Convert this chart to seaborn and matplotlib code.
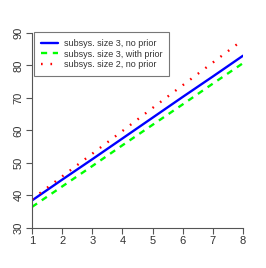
import matplotlib
matplotlib.use("Agg")
import matplotlib.pyplot as plt
import seaborn as sns
import pandas as pd

x_vals = [1, 2, 3, 4, 5, 6, 7, 8]
size3_no_prior = [38.4, 44.8, 51.1, 57.5, 63.9, 70.3, 76.6, 83.0]
size3_with_prior = [36.4, 42.7, 49.0, 55.4, 61.7, 68.0, 74.4, 80.7]
size2_no_prior = [38.8, 45.8, 52.8, 59.8, 66.9, 73.9, 80.9, 87.9]
labels = ["subsys. size 3, no prior", "subsys. size 3, with prior", "subsys. size 2, no prior"]
x_ticks = [1, 2, 3, 4, 5, 6, 7, 8]
y_ticks = [30, 40, 50, 60, 70, 80, 90]

sns.set_style("white")
plt.rcParams['font.family'] = ['Liberation Sans', 'DejaVu Sans']

rows = []
for lab, ys in zip(labels, [size3_no_prior, size3_with_prior, size2_no_prior]):
    for xv, yv in zip(x_vals, ys):
        rows.append({"x": xv, "y": yv, "series": lab})
df = pd.DataFrame(rows)

fig = plt.figure(figsize=(2.66, 2.68), dpi=100)
ax = fig.add_axes([32/266, 40.3/268, (243-32)/266, (235-40.3)/268])

colors = {labels[0]: "#0000ff", labels[1]: "#00ff00", labels[2]: "#ff0000"}
dashes = {labels[0]: None, labels[1]: (2.6, 2.4), labels[2]: (0.7, 3.3)}
for lab in labels:
    sub = df[df.series == lab]
    sns.lineplot(data=sub, x="x", y="y", ax=ax, color=colors[lab], linewidth=1.7,
                 label=lab)
    if dashes[lab] is not None:
        ax.get_lines()[-1].set_dashes(dashes[lab])

ax.set_xlim(1, 8)
ax.set_ylim(30, 90)
ax.set_xticks(x_ticks)
ax.set_yticks(y_ticks)
ax.set_xlabel("")
ax.set_ylabel("")
for s in ["top", "right"]:
    ax.spines[s].set_visible(False)
for s in ["left", "bottom"]:
    ax.spines[s].set_color("#555555")
    ax.spines[s].set_linewidth(0.8)
ax.tick_params(axis="both", which="both", direction="out", length=4, width=0.8,
               color="#555555", labelsize=8, labelcolor="#333333", pad=2,
               left=True, bottom=True)
for t in ax.get_yticklabels():
    t.set_rotation(90)
    t.set_va("center")
ax.patch.set_alpha(0)

leg = ax.legend(loc="upper left", bbox_to_anchor=(0.01, 1.005), fontsize=6.5,
                frameon=True, fancybox=False, borderaxespad=0.0, handlelength=1.9,
                handletextpad=0.65, labelspacing=0.2, borderpad=0.75)
leg.get_frame().set_edgecolor("#555555")
leg.get_frame().set_linewidth(0.8)
for t in leg.get_texts():
    t.set_color("#333333")

fig.savefig("out.png", dpi=100)
